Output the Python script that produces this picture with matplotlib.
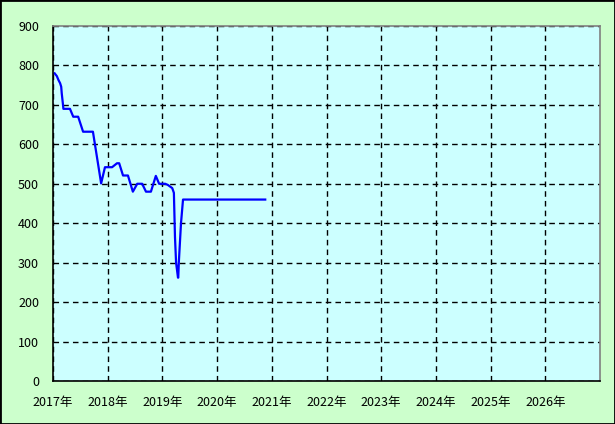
import matplotlib
matplotlib.use("Agg")
import matplotlib.pyplot as plt
from matplotlib.patches import Rectangle

plt.rcParams["font.family"] = ["Noto Sans CJK JP", "DejaVu Sans"]

# ------------------------------------------------------------
# Data (decimal year, value)
# ------------------------------------------------------------
years = [2017.03, 2017.07, 2017.10, 2017.13, 2017.15, 2017.16, 2017.18,
         2017.19, 2017.31, 2017.37, 2017.46, 2017.55, 2017.73, 2017.88,
         2017.95, 2018.08, 2018.17, 2018.21, 2018.28, 2018.37, 2018.46,
         2018.54, 2018.63, 2018.70, 2018.79, 2018.88, 2018.94, 2019.05,
         2019.10, 2019.18, 2019.21, 2019.23, 2019.25, 2019.285, 2019.29,
         2019.30, 2019.34, 2019.377, 2020.88]
values = [780, 773, 763, 755, 746, 729, 704, 690, 690, 670, 670, 632, 632,
          501, 542, 542, 552, 552, 521, 521, 480, 500, 500, 480, 480, 520,
          500, 500, 497, 489, 477, 365, 300, 262, 262, 300, 400, 460, 460]

year_ticks = list(range(2017, 2027))
year_labels = [f"{y}年" for y in year_ticks]
value_ticks = list(range(0, 1000, 100))

# ------------------------------------------------------------
# Plot
# ------------------------------------------------------------
fig = plt.figure(figsize=(6.15, 4.24), dpi=100, facecolor="#CCFFCC")
ax = fig.add_axes([53 / 615, 43 / 424, 547 / 615, 355 / 424])
ax.set_facecolor("#CCFFFF")

ax.plot(years, values, color="#0000FF", linewidth=1.6)

ax.set_xlim(2017, 2027)
ax.set_ylim(0, 900)
ax.set_xticks(year_ticks)
ax.set_xticklabels(year_labels)
ax.set_yticks(value_ticks)
ax.tick_params(length=0, labelsize=9, colors="black")
ax.tick_params(axis="x", pad=11)
ax.tick_params(axis="y", pad=10)

ax.grid(True, color="black", linestyle=(0, (4, 3)), linewidth=1)
ax.set_axisbelow(True)

ax.spines["left"].set_color("black")
ax.spines["bottom"].set_color("black")
ax.spines["top"].set_color("gray")
ax.spines["right"].set_color("gray")
for s in ax.spines.values():
    s.set_linewidth(1.2)

fig.patches.append(Rectangle((0, 0), 1, 1, transform=fig.transFigure,
                             fill=False, edgecolor="black", linewidth=2))

fig.savefig("out.png", dpi=100, facecolor=fig.get_facecolor())
